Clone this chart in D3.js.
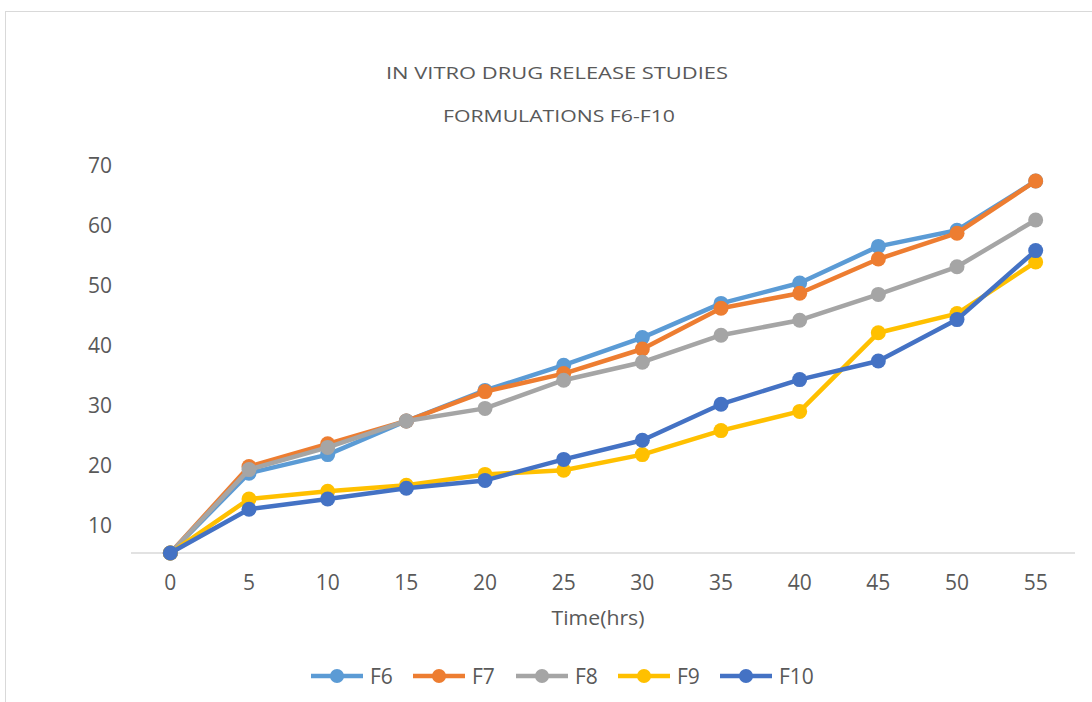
<!DOCTYPE html>
<html>
<head>
<meta charset="utf-8">
<script src="https://cdn.jsdelivr.net/npm/d3@7"></script>
<style>
  body { margin: 0; background: #fff; }
  svg text { font-family: "Open Sans", "DejaVu Sans", sans-serif; fill: #595959; }
</style>
</head>
<body>
<div id="chart"></div>
<script>
// data
var hours = [0, 5, 10, 15, 20, 25, 30, 35, 40, 45, 50, 55];
var f6  = [5.5, 18.8, 21.9, 27.5, 32.6, 36.8, 41.4, 47.1, 50.5, 56.6, 59.3, 67.5];
var f7  = [5.5, 19.9, 23.7, 27.5, 32.4, 35.4, 39.5, 46.3, 48.8, 54.5, 58.8, 67.5];
var f8  = [5.5, 19.4, 23.1, 27.5, 29.6, 34.3, 37.3, 41.8, 44.3, 48.6, 53.2, 61.0];
var f9  = [5.5, 14.5, 15.8, 16.8, 18.6, 19.3, 21.9, 25.9, 29.1, 42.2, 45.4, 54.0];
var f10 = [5.5, 12.8, 14.5, 16.3, 17.6, 21.1, 24.3, 30.3, 34.4, 37.5, 44.4, 55.9];
var seriesNames = ["F6", "F7", "F8", "F9", "F10"];
var colors = ["#5b9bd5", "#ed7d31", "#a5a5a5", "#ffc000", "#4472c4"];
var yTicks = [10, 20, 30, 40, 50, 60, 70];

var series = [f6, f7, f8, f9, f10].map(function(vals, i) {
    return { name: seriesNames[i], color: colors[i],
             values: vals.map(function(v, j) { return { x: hours[j], y: v }; }) };
});

var W = 1092, H = 702;
var svg = d3.select("#chart").append("svg").attr("width", W).attr("height", H);

// chart frame
svg.append("rect")
    .attr("x", 5.5).attr("y", 11.5)
    .attr("width", W + 20).attr("height", H + 20)
    .attr("fill", "none").attr("stroke", "#d9d9d9");

var xScale = d3.scaleBand().domain(hours).range([131, 1075]);
var yScale = d3.scaleLinear().domain([5.5, 70]).range([553, 166]);
function cx(d) { return xScale(d) + xScale.bandwidth() / 2; }

// titles
svg.append("text").attr("x", 557).attr("y", 79).attr("text-anchor", "middle")
    .style("font-size", "17px").attr("textLength", 342).attr("lengthAdjust", "spacingAndGlyphs")
    .text("IN VITRO DRUG RELEASE STUDIES");
svg.append("text").attr("x", 559).attr("y", 122).attr("text-anchor", "middle")
    .style("font-size", "17px").attr("textLength", 232).attr("lengthAdjust", "spacingAndGlyphs")
    .text("FORMULATIONS F6-F10");

// y tick labels (no axis line, no gridlines)
svg.append("g").selectAll("text").data(yTicks).enter().append("text")
    .attr("x", 112).attr("y", function(d) { return yScale(d); })
    .attr("dy", "0.35em").attr("text-anchor", "end")
    .style("font-size", "21px")
    .text(function(d) { return d; });

// x axis line + labels
svg.append("line")
    .attr("x1", 131).attr("x2", 1075)
    .attr("y1", yScale(5.5)).attr("y2", yScale(5.5))
    .attr("stroke", "#d9d9d9").attr("stroke-width", 1.5);
svg.append("g").selectAll("text").data(hours).enter().append("text")
    .attr("x", cx).attr("y", 590)
    .attr("text-anchor", "middle")
    .style("font-size", "21px")
    .text(function(d) { return d; });

svg.append("text").attr("x", 598).attr("y", 625).attr("text-anchor", "middle")
    .style("font-size", "20px").attr("textLength", 93).attr("lengthAdjust", "spacingAndGlyphs")
    .text("Time(hrs)");

// lines and markers
var line = d3.line()
    .x(function(d) { return cx(d.x); })
    .y(function(d) { return yScale(d.y); });

var g = svg.selectAll(".series").data(series).enter().append("g").attr("class", "series");
g.append("path")
    .attr("d", function(d) { return line(d.values); })
    .attr("fill", "none")
    .attr("stroke", function(d) { return d.color; })
    .attr("stroke-width", 4.5)
    .attr("stroke-linejoin", "round");
g.selectAll("circle").data(function(d) { return d.values.map(function(v) { return { v: v, c: d.color }; }); })
    .enter().append("circle")
    .attr("cx", function(d) { return cx(d.v.x); })
    .attr("cy", function(d) { return yScale(d.v.y); })
    .attr("r", 7.5)
    .attr("fill", function(d) { return d.c; });

// legend
var legX = [311, 413, 516, 618, 720];
var leg = svg.selectAll(".leg").data(series).enter().append("g")
    .attr("transform", function(d, i) { return "translate(" + legX[i] + ",676)"; });
leg.append("line").attr("x1", 0).attr("x2", 52)
    .attr("stroke", function(d) { return d.color; }).attr("stroke-width", 4.5);
leg.append("circle").attr("cx", 26).attr("r", 7).attr("fill", function(d) { return d.color; });
leg.append("text").attr("x", 59).attr("dy", "0.36em")
    .style("font-size", "21px").text(function(d) { return d.name; });
</script>
</body>
</html>
